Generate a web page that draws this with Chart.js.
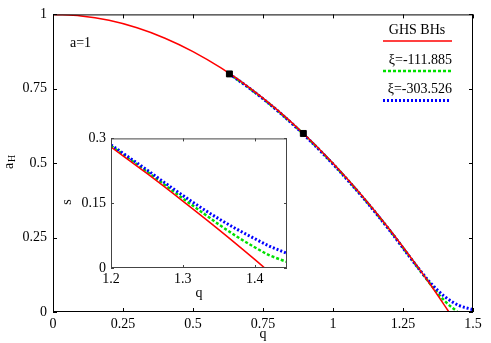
<!DOCTYPE html>
<html lang="en">
<head>
<meta charset="UTF-8">
<title>GHS BHs</title>
<script src="https://cdn.jsdelivr.net/npm/chart.js"></script>
<style>
  body { margin: 0; background: #fff; }
  #wrap { position: relative; width: 491px; height: 343px; }
  #main { position: absolute; left: 0; top: 0; }
  #inset { position: absolute; left: 50px; top: 125px; }
</style>
</head>
<body>
<div id="wrap">
  <canvas id="main" width="491" height="343"></canvas>
  <canvas id="inset" width="245" height="180"></canvas>
</div>
<script>
  // main panel: a_H versus q
  const redQ = [0, 0.1, 0.2, 0.3, 0.4, 0.5, 0.6, 0.7, 0.8, 0.9, 1.0, 1.1, 1.2, 1.3, 1.35, 1.4, 1.414];
  const redA = [1, 0.995, 0.98, 0.955, 0.92, 0.875, 0.82, 0.755, 0.68, 0.595, 0.5, 0.395, 0.28, 0.155, 0.089, 0.02, 0];
  const greenQ = [0.63, 0.7, 0.8, 0.9, 1.0, 1.1, 1.2, 1.3, 1.35, 1.4, 1.445];
  const greenA = [0.8, 0.753, 0.678, 0.593, 0.498, 0.393, 0.278, 0.153, 0.091, 0.036, 0];
  const blueQ = [0.63, 0.7, 0.8, 0.9, 1.0, 1.1, 1.2, 1.3, 1.35, 1.4, 1.45, 1.5];
  const blueA = [0.8, 0.753, 0.678, 0.592, 0.497, 0.392, 0.277, 0.153, 0.096, 0.051, 0.022, 0.008];
  const markQ = [0.63, 0.894];
  const markA = [0.8, 0.6];
  const xTicks = [0, 0.25, 0.5, 0.75, 1, 1.25, 1.5];
  const yTicks = [0, 0.25, 0.5, 0.75, 1];

  // inset: s versus q
  const insRedQ = [1.2, 1.25, 1.3, 1.35, 1.4, 1.414];
  const insRedS = [0.28, 0.219, 0.155, 0.089, 0.02, 0];
  const insQ = [1.2, 1.225, 1.25, 1.275, 1.3, 1.325, 1.35, 1.375, 1.4, 1.42, 1.445];
  const insGreenS = [0.283, 0.253, 0.223, 0.192, 0.161, 0.131, 0.101, 0.073, 0.048, 0.03, 0.014];
  const insBlueS = [0.285, 0.256, 0.227, 0.197, 0.168, 0.14, 0.114, 0.09, 0.068, 0.051, 0.034];
  const insXTicks = [1.2, 1.3, 1.4];
  const insYTicks = [0, 0.15, 0.3];

  const legendLabels = ['GHS BHs', 'ξ=-111.885', 'ξ=-303.526'];

  const RED = '#ff0000', GREEN = '#00e000', BLUE = '#0000ff';
  const FONT = 'Liberation Serif';

  Chart.defaults.font.family = FONT;
  Chart.defaults.font.size = 14;
  Chart.defaults.color = '#000';

  const pts = (xs, ys) => xs.map((x, i) => ({ x: x, y: ys[i] }));
  const fmt = v => String(Math.round(v * 1000) / 1000);

  function line(data, color, width, dash, order) {
    return {
      data: data, borderColor: color, backgroundColor: color, borderWidth: width,
      borderDash: dash, pointRadius: 0, cubicInterpolationMode: 'monotone',
      fill: false, order: order
    };
  }

  // box with inward ticks on all four sides
  const frame = {
    id: 'frame',
    afterDatasetsDraw(chart, args, opts) {
      const { ctx, chartArea: a, scales: { x, y } } = chart;
      const t = opts.len;
      ctx.save();
      ctx.strokeStyle = opts.color;
      ctx.lineWidth = 1;
      ctx.strokeRect(a.left + 0.5, a.top + 0.5, a.right - a.left - 1, a.bottom - a.top - 1);
      ctx.beginPath();
      x.ticks.forEach(tk => {
        const px = Math.round(x.getPixelForValue(tk.value)) + 0.5;
        ctx.moveTo(px, a.bottom); ctx.lineTo(px, a.bottom - t);
        ctx.moveTo(px, a.top); ctx.lineTo(px, a.top + t);
      });
      y.ticks.forEach(tk => {
        const py = Math.round(y.getPixelForValue(tk.value)) + 0.5;
        ctx.moveTo(a.left, py); ctx.lineTo(a.left + t, py);
        ctx.moveTo(a.right, py); ctx.lineTo(a.right - t, py);
      });
      ctx.stroke();
      ctx.restore();
    }
  };

  const mainText = {
    id: 'mainText',
    afterDraw(chart) {
      const { ctx, chartArea: a } = chart;
      ctx.save();
      ctx.fillStyle = '#000';
      ctx.font = '14px ' + FONT;
      ctx.textBaseline = 'middle';
      ctx.textAlign = 'left';
      ctx.fillText('a=1', 70, 43);
      ctx.textAlign = 'center';
      ctx.fillText('q', (a.left + a.right) / 2, 334);
      // y title a_H
      ctx.save();
      ctx.translate(13, 169);
      ctx.rotate(-Math.PI / 2);
      ctx.textBaseline = 'alphabetic';
      ctx.textAlign = 'left';
      ctx.fillText('a', 0, 0);
      ctx.font = '10px ' + FONT;
      ctx.fillText('H', 7, 2);
      ctx.restore();
      // legend
      ctx.textAlign = 'center';
      ctx.fillText(legendLabels[0], 417, 30);
      ctx.textAlign = 'right';
      ctx.fillText(legendLabels[1], 452, 60);
      ctx.fillText(legendLabels[2], 452, 89);
      const sample = (y, color, w, dash, x2) => {
        ctx.beginPath();
        ctx.strokeStyle = color; ctx.lineWidth = w; ctx.setLineDash(dash);
        ctx.moveTo(383, y); ctx.lineTo(x2, y); ctx.stroke();
      };
      sample(41, RED, 1.5, [], 452);
      sample(71, GREEN, 2.5, [3, 2], 452);
      sample(100.5, BLUE, 3, [2, 2], 450);
      ctx.restore();
    }
  };

  const insetText = {
    id: 'insetText',
    afterDraw(chart) {
      const { ctx, chartArea: a } = chart;
      ctx.save();
      ctx.fillStyle = '#000';
      ctx.font = '14px ' + FONT;
      ctx.textBaseline = 'middle';
      ctx.textAlign = 'center';
      ctx.fillText('q', (a.left + a.right) / 2, 168);
      ctx.translate(17, 77);
      ctx.rotate(-Math.PI / 2);
      ctx.fillText('s', 0, 0);
      ctx.restore();
    }
  };

  function axis(min, max, ticks, pad, fit) {
    return {
      type: 'linear', min: min, max: max,
      grid: { display: false, drawTicks: false },
      border: { display: false },
      ticks: { padding: pad, maxRotation: 0, autoSkip: false, callback: fmt },
      afterBuildTicks: s => { s.ticks = ticks.map(v => ({ value: v })); },
      afterFit: fit
    };
  }

  new Chart(document.getElementById('main'), {
    type: 'line',
    data: {
      datasets: [
        {
          type: 'scatter', data: pts(markQ, markA), pointStyle: 'rect', pointRadius: 4.2,
          pointBackgroundColor: '#000', pointBorderColor: '#000', showLine: false, order: 0
        },
        line(pts(redQ, redA), RED, 1.5, [], 1),
        line(pts(blueQ, blueA), BLUE, 3, [2, 2], 2),
        line(pts(greenQ, greenA), GREEN, 2.5, [3, 2], 3)
      ]
    },
    options: {
      responsive: false,
      animation: false,
      layout: { padding: { top: 11, right: 18, left: 0, bottom: 0 } },
      plugins: { legend: { display: false }, tooltip: { enabled: false }, frame: { color: '#000', len: 4 } },
      scales: {
        x: axis(0, 1.5, xTicks, 4, s => { s.height = 31; }),
        y: axis(0, 1, yTicks, 6, s => { s.width = 53; })
      }
    },
    plugins: [frame, mainText]
  });

  new Chart(document.getElementById('inset'), {
    type: 'line',
    data: {
      datasets: [
        line(pts(insRedQ, insRedS), RED, 1.5, [], 1),
        line(pts(insQ, insBlueS), BLUE, 3, [2, 2], 2),
        line(pts(insQ, insGreenS), GREEN, 2.5, [3, 2], 3)
      ]
    },
    options: {
      responsive: false,
      animation: false,
      layout: { padding: { top: 12, right: 8, left: 0, bottom: 0 } },
      plugins: { legend: { display: false }, tooltip: { enabled: false }, frame: { color: '#444', len: 3 } },
      scales: {
        x: axis(1.2, 1.445, insXTicks, 3, s => { s.height = 37; }),
        y: axis(0, 0.3, insYTicks, 5, s => { s.width = 61; })
      }
    },
    plugins: [frame, insetText]
  });
</script>
</body>
</html>
